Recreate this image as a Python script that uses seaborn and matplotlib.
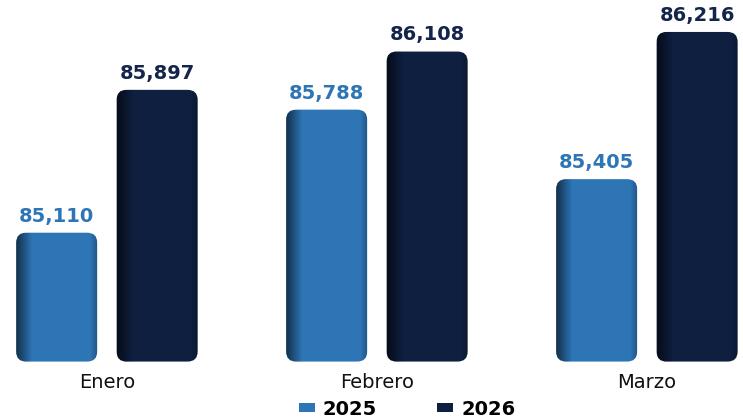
import numpy as np
import pandas as pd
import matplotlib
matplotlib.use("Agg")
import matplotlib.pyplot as plt
import seaborn as sns
from matplotlib.patches import FancyBboxPatch, Patch

months = ["Enero", "Febrero", "Marzo"]
years = ["2025", "2026"]
values_2025 = [85110, 85788, 85405]
values_2026 = [85897, 86108, 86216]
colors = {"2025": "#2E75B6", "2026": "#0E1F40"}
label_colors = {"2025": "#2E75B6", "2026": "#14244A"}

df = pd.DataFrame({
    "mes": months * 2,
    "anio": ["2025"] * 3 + ["2026"] * 3,
    "valor": values_2025 + values_2026,
})

sns.set_style("white")
plt.rcParams["font.family"] = ["DejaVu Sans"]

fig = plt.figure(figsize=(7.43, 4.18), dpi=100)
ax = fig.add_axes([0, 0.135, 1, 0.865])
sns.barplot(data=df, x="mes", y="valor", hue="anio", palette=colors,
            width=0.744, gap=0.194, ax=ax, legend=False, saturation=1)

ymin, ymax = 84400, 86392
xlim = (-0.396, 2.356)

# px per data unit for rounding
px_x = 743 / (xlim[1] - xlim[0])
px_y = (418 * 0.865) / (ymax - ymin)
r_px = 10
r_x = r_px / px_x
aspect = (r_px / px_y) / r_x

bars = list(ax.patches)
order = [(y, m) for y in years for m in months]
for p, (yr, m) in zip(bars, order):
    x0 = p.get_x()
    w = p.get_width()
    top = p.get_y() + p.get_height()
    p.set_visible(False)
    fb = FancyBboxPatch((x0, ymin), w, top - ymin,
                        boxstyle=f"round,pad=0,rounding_size={r_x}",
                        mutation_aspect=aspect,
                        facecolor=colors[yr], edgecolor="none", zorder=2)
    ax.add_patch(fb)
    # shading gradient on the left edge
    n = 200
    t = np.linspace(0, 1, n)
    alpha = np.clip(0.6 * (1 - t / 0.2), 0, None) + np.clip(0.25 * (t - 0.92) / 0.08, 0, None)
    grad = np.zeros((1, n, 4))
    grad[..., 3] = alpha
    im = ax.imshow(grad, extent=(x0, x0 + w, ymin, top), aspect="auto",
                   zorder=3, interpolation="bilinear")
    im.set_clip_path(fb)
    ax.annotate(f"{top:,.0f}", xy=(x0 + w / 2, top), xytext=(0, 8),
                textcoords="offset points", ha="center", va="baseline",
                fontsize=14, fontweight="bold", color=label_colors[yr], zorder=4)

ax.set_xlim(*xlim)
ax.set_ylim(ymin, ymax)
ax.set_xlabel("")
ax.set_ylabel("")
ax.set_yticks([])
ax.tick_params(axis="x", length=0, labelsize=14, labelcolor="#111111", pad=8)
for s in ax.spines.values():
    s.set_visible(False)

handles = [Patch(facecolor=colors[y], edgecolor="none", label=y) for y in years]
leg = fig.legend(handles=handles, loc="center left", bbox_to_anchor=(0.402, 0.0215),
                 ncol=2, frameon=False, handlelength=0.82, handleheight=0.32,
                 handletextpad=0.42, columnspacing=3.1,
                 borderpad=0, borderaxespad=0,
                 prop={"weight": "bold", "size": 14})
for txt in leg.get_texts():
    txt.set_color("#000000")

fig.savefig("out.png", dpi=100)
